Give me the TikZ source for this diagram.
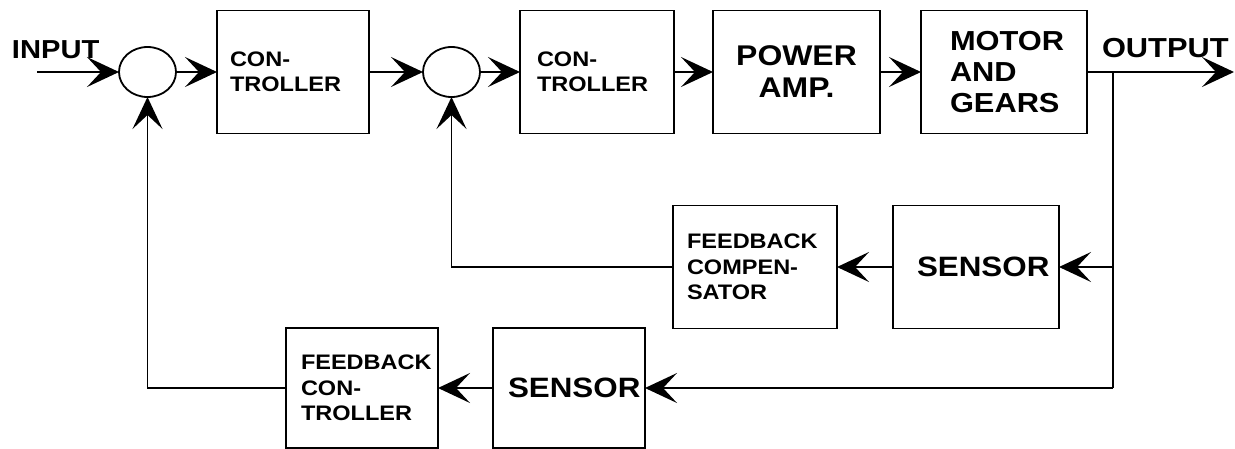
\documentclass[tikz,border=0pt]{standalone}
\usepackage{fontspec}
\setmainfont[FakeStretch=1.12]{Liberation Sans}
\usetikzlibrary{arrows.meta,shapes.geometric}
\newcommand{\myfs}[2]{\fontsize{#1}{#2}\selectfont}
\begin{document}
\begin{tikzpicture}[x=1pt,y=-1pt,
  blk/.style={draw, line width=1.8pt, rectangle, inner sep=0pt, outer sep=0pt, align=left},
  sumnode/.style={draw, line width=1.8pt, ellipse, minimum width=57pt, minimum height=50pt, inner sep=0pt, outer sep=0pt},
  wire/.style={line width=1.8pt},
  flow/.style={wire, -{Stealth[length=32pt,width=30pt,inset=14pt]}},
  lbl/.style={inner sep=0pt, outer sep=0pt, anchor=base west, font=\bfseries\myfs{26}{30}}
]
\useasboundingbox (0,0) rectangle (1235,448);
% top row
\node[sumnode] (s1) at (147.5,72) {};
\node[sumnode] (s2) at (451.5,72) {};
\node[blk, minimum width=152pt, minimum height=123pt, text width=126pt, font=\bfseries\myfs{21}{25.5}] (c1) at (293,72) {CON-\\TROLLER};
\node[blk, minimum width=154pt, minimum height=123pt, text width=120pt, font=\bfseries\myfs{21}{25.5}] (c2) at (597,72) {CON-\\TROLLER};
\node[blk, minimum width=167pt, minimum height=123pt, text width=150pt, align=center, font=\bfseries\myfs{28.5}{32}] (pa) at (796.5,72) {POWER\\AMP.\\[-4pt]};
\node[blk, minimum width=166pt, minimum height=123pt, text width=108pt, font=\bfseries\myfs{27.5}{31}] (mg) at (1004,72) {MOTOR\\AND\\GEARS};
% feedback
\node[blk, minimum width=164pt, minimum height=123pt, text width=136pt, font=\bfseries\myfs{21}{25.5}] (fc) at (755,267) {FEEDBACK\\COMPEN-\\SATOR};
\node[blk, minimum width=166pt, minimum height=123pt, text width=118pt, font=\bfseries\myfs{28}{32}] (se1) at (976,267) {SENSOR};
\node[blk, minimum width=152pt, minimum height=120pt, text width=122pt, font=\bfseries\myfs{21}{25.5}] (fb) at (362,388) {FEEDBACK\\CON-\\TROLLER};
\node[blk, minimum width=152pt, minimum height=120pt, text width=122pt, font=\bfseries\myfs{28}{32}] (se2) at (569,388) {SENSOR};
% labels
\node[lbl] (inl) at (12,58) {INPUT};
\node[lbl, font=\bfseries\myfs{27.5}{30}] (outl) at (1102,57) {OUTPUT};
% coordinates
\coordinate (in) at (37,72);
\coordinate (out) at (1234,72);
\coordinate (j1) at (1113,72);
\coordinate (j2) at (1113,267);
\coordinate (j3) at (1113,388);
% connectors
\draw[flow] (in) -- (s1.west);
\draw[flow] (s1.east) -- (c1.west);
\draw[flow] (c1.east) -- (s2.west);
\draw[flow] (s2.east) -- (c2.west);
\draw[flow] (c2.east) -- (pa.west);
\draw[flow] (pa.east) -- (mg.west);
\draw[flow] (mg.east) -- (out);
\draw[wire] (j1) -- (j3);
\draw[flow] (j2) -- (se1.east);
\draw[flow] (se1.west) -- (fc.east);
\draw[flow] (fc.west) -| (s2.south);
\draw[flow] (j3) -- (se2.east);
\draw[flow] (se2.west) -- (fb.east);
\draw[flow] (fb.west) -| (s1.south);
\end{tikzpicture}
\end{document}
